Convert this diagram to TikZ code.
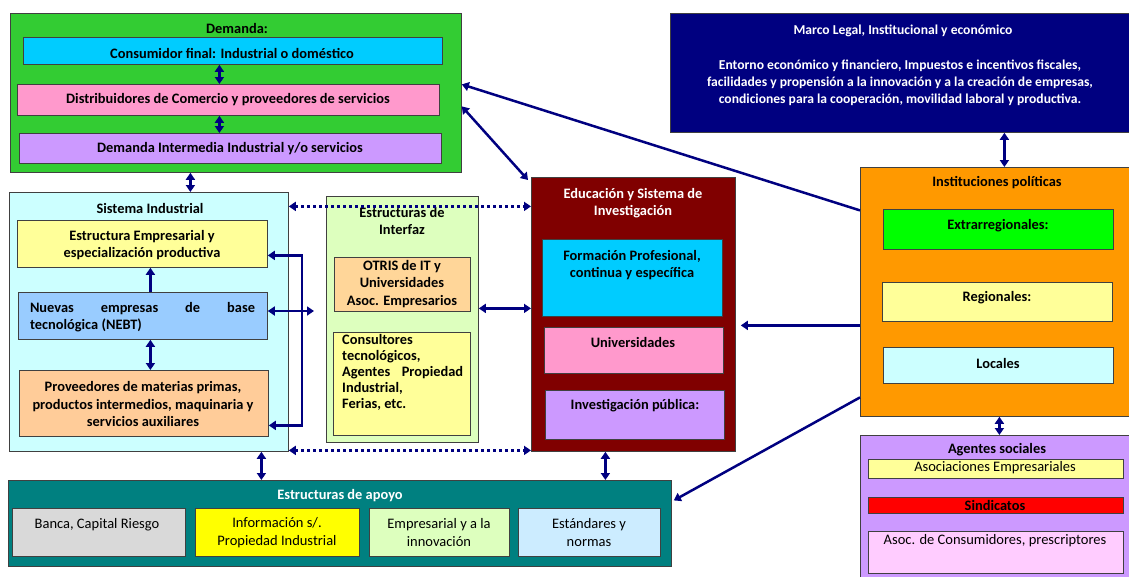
\documentclass[tikz,border=0pt]{standalone}
\usepackage{fontspec}
\setmainfont{Carlito}
\usetikzlibrary{arrows.meta,calc}
\definecolor{cNavyA}{HTML}{000080}
\definecolor{cDem}{HTML}{33CC33}
\definecolor{cCyan}{HTML}{00CCFF}
\definecolor{cPink}{HTML}{FF99CC}
\definecolor{cLav}{HTML}{CC99FF}
\definecolor{cSis}{HTML}{CCFFFF}
\definecolor{cYel}{HTML}{FFFF99}
\definecolor{cNebt}{HTML}{99CCFF}
\definecolor{cProv}{HTML}{FFCC99}
\definecolor{cIntf}{HTML}{DDFFBE}
\definecolor{cOtris}{HTML}{FFD699}
\definecolor{cEdu}{HTML}{800000}
\definecolor{cMarco}{HTML}{000080}
\definecolor{cInst}{HTML}{FF9900}
\definecolor{cGreen}{HTML}{00FF00}
\definecolor{cRed}{HTML}{FF0000}
\definecolor{cPinkL}{HTML}{FFCCFF}
\definecolor{cTeal}{HTML}{008080}
\definecolor{cGray}{HTML}{D9D9D9}
\definecolor{cYellow}{HTML}{FFFF00}
\definecolor{cStd}{HTML}{CCECFF}
\definecolor{cBorder}{HTML}{404040}
\newcommand\bx[6]{\node[box,fill=#6,minimum width={#4-#2},minimum height={#5-#3},anchor=north west] (#1) at (#2,#3) {};}
\tikzset{
  box/.style={draw=cBorder, line width=0.8pt, inner sep=0pt, rectangle},
  tb/.style={font=\fontsize{14.4}{17.5}\selectfont\bfseries, align=center, inner sep=0pt, text=black},
  tw/.style={tb, text=white},
  tr/.style={font=\fontsize{14.5}{18}\selectfont, align=center, inner sep=0pt, text=black},
  tip/.tip={Triangle[length=7pt,width=9pt]},
  arr/.style={draw=cNavyA, line width=2.5pt, -tip},
  dbl/.style={draw=cNavyA, line width=2.5pt, tip-tip},
  dotd/.style={draw=cNavyA, line width=3pt, dash pattern=on 3pt off 3pt, tip-tip},
}
\begin{document}
\begin{tikzpicture}[x=1pt,y=-1pt]
\useasboundingbox[fill=white] (0,0) rectangle (1129,576);

% Demanda
\bx{dem}{10}{13}{461}{172}{cDem}
\bx{cons}{23}{37}{442}{64}{cCyan}
\bx{dist}{17}{84}{439}{115}{cPink}
\bx{demi}{19}{133}{441}{163}{cLav}
\node[tb] (demT) at (237,28) {Demanda:};
\node[tb] (consT) at (232,53) {Consumidor final: Industrial o doméstico};
\node[tb] (distT) at (228,100) {Distribuidores de Comercio y proveedores de servicios};
\node[tb] (demiT) at (230,149) {Demanda Intermedia Industrial y/o servicios};

% Sistema Industrial
\bx{sis}{9}{192}{288}{451}{cSis}
\node[tb] (sisT) at (150,208) {Sistema Industrial};
\bx{estr}{17}{220}{267}{267}{cYel}
\node[tb] (estrT) at (142,245) {Estructura Empresarial y\\especialización productiva};
\bx{nebt}{18}{292}{267}{339}{cNebt}
\node[tb,align=left] (nebtT) at (142.5,317) {\makebox[225pt][s]{Nuevas empresas de base}\\tecnológica (NEBT)};
\bx{prov}{19}{370}{268}{436}{cProv}
\node[tb] (provT) at (143,404) {Proveedores de materias primas,\\productos intermedios, maquinaria y\\servicios auxiliares};

% Interfaz
\bx{intf}{326}{196}{478}{442}{cIntf}
\node[tb] (intfT) at (402,221) {Estructuras de\\Interfaz};
\bx{otris}{334}{257}{470}{311}{cOtris}
\node[tb] (otrisT) at (402,284) {OTRIS de IT y\\Universidades\\Asoc. Empresarios};
\bx{consu}{333}{332}{470}{435}{cYel}
\node[tb,align=left,anchor=north west,font=\fontsize{14.4}{16}\selectfont\bfseries] (consuT) at (342,334) {Consultores\\tecnológicos,\\\makebox[121pt][s]{Agentes Propiedad}\\Industrial,\\Ferias, etc.};

% Educacion
\bx{edu}{531}{177}{735}{451}{cEdu}
\node[tw] (eduT) at (633,203) {Educación y Sistema de\\Investigación};
\bx{form}{542}{239}{722}{316}{cCyan}
\node[tb] (formT) at (632,265) {Formación Profesional,\\continua y específica};
\bx{univ}{544}{327}{723}{373}{cPink}
\node[tb] (univT) at (633,342) {Universidades};
\bx{inv}{545}{390}{724}{439}{cLav}
\node[tb] (invT) at (635,406) {Investigación pública:};

% Marco
\bx{marco}{670}{13}{1140}{132}{cMarco}
\node[tw,font=\fontsize{13.6}{17.2}\selectfont\bfseries] (marcoT) at (903,31) {Marco Legal, Institucional y económico};
\node[tw,font=\fontsize{13.6}{17.2}\selectfont\bfseries] (marcoB) at (900,83) {Entorno económico y financiero, Impuestos e incentivos fiscales,\\facilidades y propensión a la innovación y a la creación de empresas,\\condiciones para la cooperación, movilidad laboral y productiva.};

% Instituciones
\bx{inst}{860}{167}{1140}{416}{cInst}
\node[tb] (instT) at (997,183) {Instituciones políticas};
\bx{extr}{883}{209}{1113}{249}{cGreen}
\node[tb] (extrT) at (998,226) {Extrarregionales:};
\bx{reg}{882}{282}{1112}{321}{cYel}
\node[tb] (regT) at (997,298) {Regionales:};
\bx{loc}{883}{347}{1113}{383}{cSis}
\node[tb] (locT) at (998,363) {Locales};

% Agentes
\bx{agen}{860}{435}{1140}{585}{cLav}
\node[tb] (agenT) at (997,450) {Agentes sociales};
\bx{asoc}{868}{459}{1123}{478}{cYel}
\node[tr] (asocT) at (995,468) {Asociaciones Empresariales};
\bx{sind}{868}{497}{1123}{513}{cRed}
\node[tb] (sindT) at (995,505) {Sindicatos};
\bx{acons}{868}{531}{1123}{573}{cPinkL}
\node[tr] (aconsT) at (995,541) {Asoc. de Consumidores, prescriptores};

% Apoyo
\bx{apoyo}{8}{480}{671}{566}{cTeal}
\node[tw] (apoyoT) at (340,496) {Estructuras de apoyo};
\bx{banca}{12}{508}{185}{556}{cGray}
\node[tr] (bancaT) at (97,525) {Banca, Capital Riesgo};
\bx{info}{195}{508}{359}{556}{cYellow}
\node[tr] (infoT) at (277,533) {Información s/.\\Propiedad Industrial};
\bx{empr}{369}{508}{509}{556}{cIntf}
\node[tr] (emprT) at (439,533) {Empresarial y a la\\innovación};
\bx{est}{518}{508}{660}{556}{cStd}
\node[tr] (estT) at (589,533) {Estándares y\\normas};

% Connectors
\draw[dbl] ([xshift=-13.5pt]cons.south) -- ([xshift=-13.5pt]cons.south |- dist.north);
\draw[dbl] ([xshift=-9pt]dist.south) -- ([xshift=-9pt]dist.south |- demi.north);
\draw[dbl] ([xshift=-45.5pt]dem.south) -- ([xshift=-45.5pt]dem.south |- sis.north);
\draw[arr] ([xshift=7.5pt]nebt.north) -- ([xshift=7.5pt]nebt.north |- estr.south);
\draw[dbl] ([xshift=7.5pt]nebt.south) -- ([xshift=7.5pt]nebt.south |- prov.north);

\coordinate (bj) at (302,311);
\coordinate (bjr) at (314,311);
\draw[arr] (bj) |- ([yshift=-11.5pt]estr.east);
\draw[arr] (bj) |- ([yshift=-22pt]prov.east);
\draw[arr] (bj) -- (bj -| nebt.east);
\draw[arr] (bj) -- (bjr);

\draw[dbl] ([yshift=11pt]intf.east) -- ([yshift=11pt]intf.east -| edu.west);
\draw[dotd] ([yshift=115.5pt]sis.east) -- ([yshift=115.5pt]sis.east -| edu.west);
\draw[dotd] ([yshift=-128.5pt]sis.east) -- ([yshift=-128.5pt]sis.east -| edu.west);

\draw[dbl] ([xshift=112.5pt]sis.south) -- ([xshift=112.5pt]sis.south |- apoyo.north);
\draw[dbl] ([xshift=-28pt]edu.south) -- ([xshift=-28pt]edu.south |- apoyo.north);
\draw[dbl] ([xshift=99pt]marco.south) -- ([xshift=99pt]marco.south |- inst.north);
\draw[dbl] ([xshift=-1pt]inst.south) -- ([xshift=-1pt]inst.south |- agen.north);

\coordinate (eduE) at ([xshift=5pt]edu.east);
\draw[arr] ([yshift=81.5pt]inst.west) -- ([yshift=8.5pt]dem.east);
\draw[arr] ([yshift=-33.5pt]inst.west) -- ([yshift=-33.5pt]inst.west -| eduE);
\draw[arr] ([yshift=-105.5pt]inst.west) -- ([xshift=2pt,yshift=23pt]apoyo.east);
\draw[dbl] ([yshift=-13.5pt]dem.east) -- ([xshift=-3pt,yshift=-3pt]edu.north west);
\end{tikzpicture}
\end{document}
